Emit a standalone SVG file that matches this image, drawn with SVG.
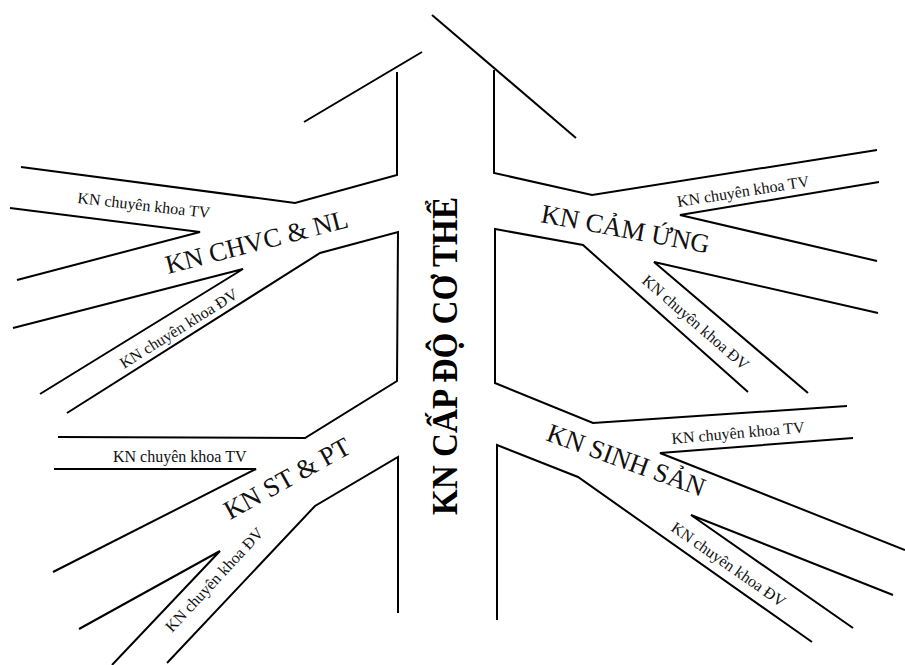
<svg xmlns="http://www.w3.org/2000/svg" width="905" height="665" viewBox="0 0 905 665">
<style>
.ln{fill:none;stroke:#000;stroke-width:2;stroke-linejoin:miter;stroke-linecap:butt}
.big{font-family:"Liberation Serif","Times New Roman",serif;font-size:26.5px;fill:#111}
.sm{font-family:"Liberation Serif","Times New Roman",serif;font-size:16px;fill:#111}
.title{font-family:"Liberation Serif","Times New Roman",serif;font-size:36px;font-weight:bold;fill:#000}
</style>
<rect width="905" height="665" fill="#fff"/>
<g id="connectors">
<polyline class="ln" points="432,15 576,138"/>
<polyline class="ln" points="304,122 422,52"/>
<polyline class="ln" points="397,72 397,175 295,203 21,167"/>
<polyline class="ln" points="10,208 200,232 17,280"/>
<polyline class="ln" points="13,328 243,269 40,394"/>
<polyline class="ln" points="67,413 320,253 398,232 397,381 305,438 58,437"/>
<polyline class="ln" points="54,469 256,469 53,572"/>
<polyline class="ln" points="398,613 398,457 315,506 167,663"/>
<polyline class="ln" points="79,629 220,551 112,665"/>
<polyline class="ln" points="494,70 494,173 592,195 877,150"/>
<polyline class="ln" points="879,182 680,215 877,261"/>
<polyline class="ln" points="878,313 654,262 808,393"/>
<polyline class="ln" points="748,392 583,245 495,229 495,383 593,423 847,406"/>
<polyline class="ln" points="853,438 660,453 905,550"/>
<polyline class="ln" points="497,620 497,445 578,477 812,642"/>
<polyline class="ln" points="893,595 691,515 853,628"/>
</g>
<g id="node-center">
<text class="title" transform="translate(457,515) rotate(-90)" textLength="318" lengthAdjust="spacingAndGlyphs">KN CẤP ĐỘ CƠ THỂ</text>
</g>
<g id="node-chvc">
<text class="big" transform="translate(168,274) rotate(-14.5)">KN CHVC &amp; NL</text>
<text class="sm" transform="translate(77,203) rotate(6.5)">KN chuyên khoa TV</text>
<text class="sm" transform="translate(124,369) rotate(-32)">KN chuyên khoa ĐV</text>
</g>
<g id="node-stpt">
<text class="big" transform="translate(230,520) rotate(-29)">KN ST &amp; PT</text>
<text class="sm" transform="translate(113,462)">KN chuyên khoa TV</text>
<text class="sm" transform="translate(172,633) rotate(-47)">KN chuyên khoa ĐV</text>
</g>
<g id="node-camung">
<text class="big" transform="translate(540,222) rotate(10.5)">KN CẢM ỨNG</text>
<text class="sm" transform="translate(678,207) rotate(-9)">KN chuyên khoa TV</text>
<text class="sm" transform="translate(641,282) rotate(41)">KN chuyên khoa ĐV</text>
</g>
<g id="node-sinhsan">
<text class="big" transform="translate(545,440) rotate(20)" font-size="27">KN SINH SẢN</text>
<text class="sm" transform="translate(672,444) rotate(-5)">KN chuyên khoa TV</text>
<text class="sm" transform="translate(670,530) rotate(35)">KN chuyên khoa ĐV</text>
</g>
</svg>
